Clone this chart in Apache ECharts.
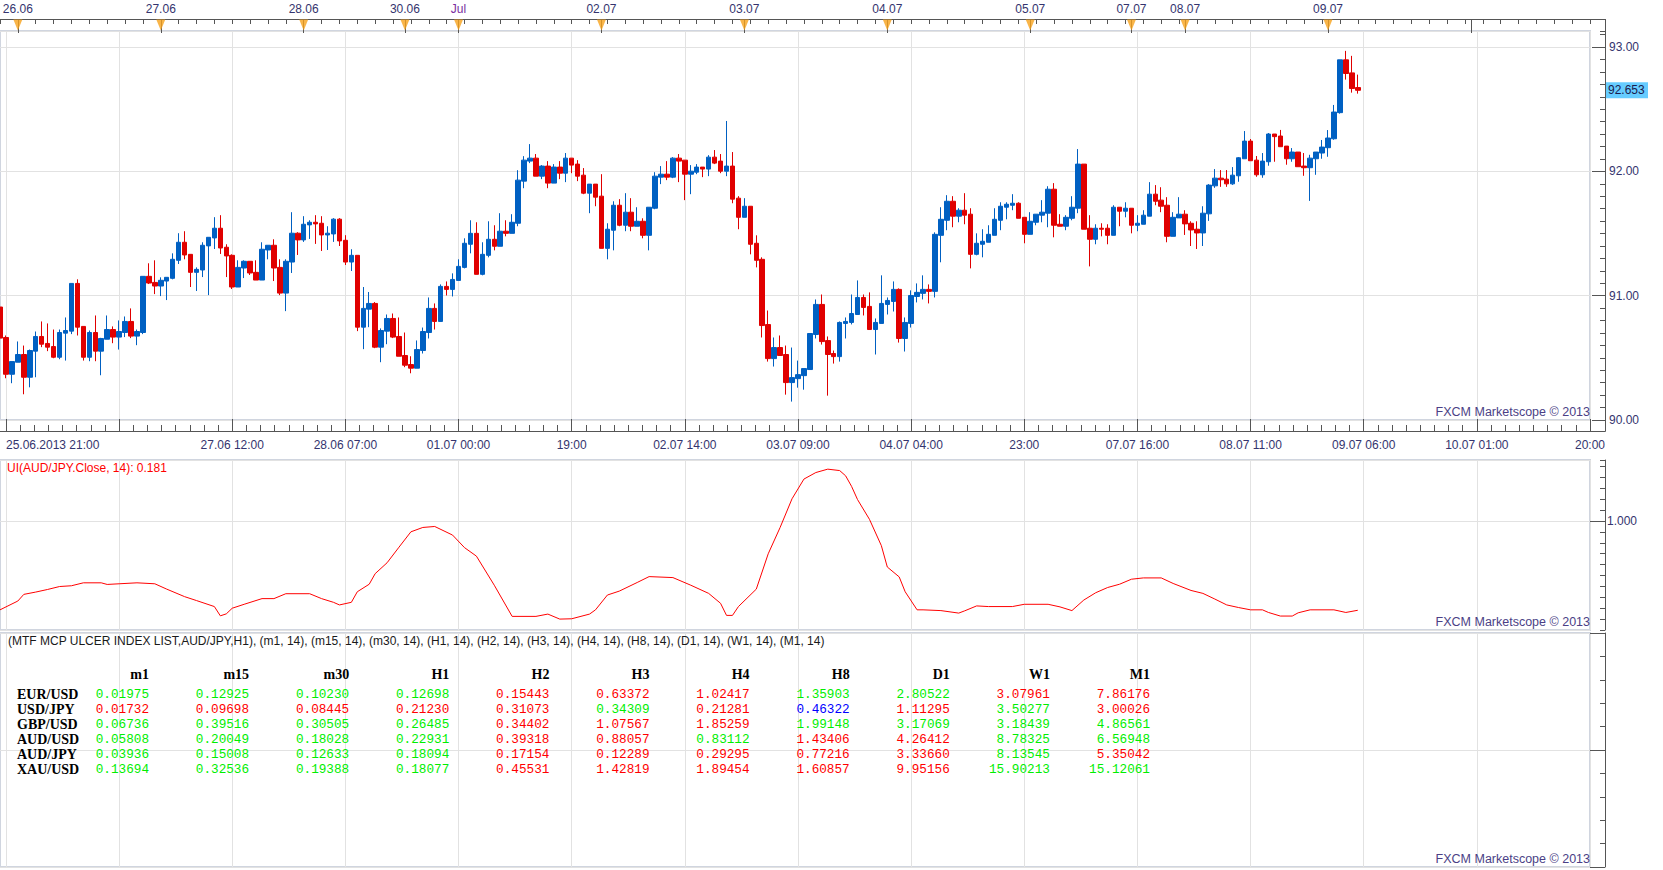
<!DOCTYPE html>
<html>
<head>
<meta charset="UTF-8">
<title>AUD/JPY H1 - MTF MCP Ulcer Index</title>
<script src="https://cdn.jsdelivr.net/npm/echarts@6/dist/echarts.min.js"></script>
<style>
  html, body { margin: 0; padding: 0; background: #fff; }
  #main { width: 1663px; height: 870px; }
</style>
</head>
<body>
<div id="main"></div>
<script>
// hourly bars, slot 0 = 25.06 20:00 ; [open, high, low, close]
var candles = [
  [90.909, 90.997, 90.532, 90.659], [90.664, 90.680, 90.336, 90.368], [90.368, 90.470, 90.296, 90.470],
  [90.465, 90.632, 90.465, 90.527], [90.527, 90.599, 90.207, 90.344], [90.344, 90.567, 90.263, 90.559],
  [90.554, 90.712, 90.344, 90.672], [90.672, 90.793, 90.586, 90.610], [90.616, 90.777, 90.554, 90.586],
  [90.591, 90.728, 90.497, 90.505], [90.505, 90.728, 90.489, 90.704], [90.699, 90.825, 90.478, 90.720],
  [90.715, 91.099, 90.691, 91.099], [91.099, 91.132, 90.680, 90.747], [90.753, 90.753, 90.478, 90.505],
  [90.505, 90.720, 90.473, 90.704], [90.704, 90.841, 90.473, 90.554], [90.554, 90.661, 90.360, 90.656],
  [90.650, 90.841, 90.650, 90.728], [90.728, 90.753, 90.618, 90.667], [90.667, 90.801, 90.567, 90.712],
  [90.704, 90.833, 90.667, 90.793], [90.793, 90.898, 90.659, 90.675], [90.675, 90.728, 90.602, 90.712],
  [90.704, 91.156, 90.691, 91.156], [91.156, 91.261, 91.094, 91.102], [91.107, 91.285, 91.013, 91.078],
  [91.078, 91.148, 90.997, 91.124], [91.118, 91.148, 90.965, 91.148], [91.140, 91.341, 91.132, 91.293],
  [91.285, 91.503, 91.255, 91.430], [91.430, 91.519, 91.293, 91.328], [91.333, 91.333, 91.070, 91.188],
  [91.188, 91.228, 91.038, 91.212], [91.207, 91.430, 91.150, 91.406], [91.401, 91.470, 91.005, 91.470],
  [91.465, 91.632, 91.376, 91.543], [91.543, 91.648, 91.336, 91.384], [91.390, 91.414, 91.150, 91.320],
  [91.325, 91.333, 91.054, 91.070], [91.070, 91.285, 91.070, 91.228], [91.223, 91.285, 91.142, 91.277],
  [91.277, 91.277, 91.167, 91.183], [91.188, 91.285, 91.126, 91.126], [91.126, 91.430, 91.126, 91.374],
  [91.368, 91.406, 91.293, 91.406], [91.406, 91.454, 91.118, 91.223], [91.228, 91.293, 91.005, 91.021],
  [91.021, 91.293, 90.876, 91.277], [91.271, 91.672, 91.183, 91.503], [91.503, 91.511, 91.328, 91.449],
  [91.449, 91.640, 91.433, 91.575], [91.570, 91.607, 91.457, 91.591], [91.591, 91.648, 91.417, 91.578],
  [91.583, 91.640, 91.360, 91.489], [91.489, 91.559, 91.368, 91.503], [91.497, 91.624, 91.433, 91.616],
  [91.616, 91.624, 91.400, 91.441], [91.446, 91.487, 91.247, 91.271], [91.271, 91.374, 91.199, 91.325],
  [91.325, 91.325, 90.715, 90.747], [90.747, 91.070, 90.570, 90.898], [90.892, 91.030, 90.747, 90.938],
  [90.938, 90.949, 90.578, 90.586], [90.586, 90.737, 90.465, 90.720], [90.715, 90.849, 90.610, 90.817],
  [90.817, 90.857, 90.659, 90.667], [90.672, 90.825, 90.513, 90.513], [90.519, 90.704, 90.425, 90.441],
  [90.446, 90.513, 90.376, 90.417], [90.417, 90.640, 90.417, 90.567], [90.559, 90.744, 90.535, 90.712],
  [90.704, 90.986, 90.656, 90.898], [90.898, 90.938, 90.728, 90.793], [90.793, 91.091, 90.793, 91.075],
  [91.075, 91.115, 91.002, 91.051], [91.051, 91.180, 90.994, 91.131], [91.123, 91.293, 91.123, 91.236],
  [91.228, 91.462, 91.220, 91.422], [91.414, 91.607, 91.341, 91.502], [91.502, 91.591, 91.172, 91.172],
  [91.172, 91.430, 91.164, 91.333], [91.325, 91.599, 91.309, 91.454], [91.454, 91.567, 91.365, 91.398],
  [91.398, 91.664, 91.398, 91.519], [91.519, 91.607, 91.478, 91.502], [91.502, 91.656, 91.502, 91.591],
  [91.583, 92.010, 91.559, 91.930], [91.922, 92.123, 91.865, 92.091], [92.083, 92.220, 92.067, 92.107],
  [92.107, 92.140, 91.962, 91.962], [91.962, 92.051, 91.938, 92.043], [92.043, 92.083, 91.865, 91.906],
  [91.906, 92.059, 91.906, 92.035], [92.035, 92.083, 91.938, 91.986], [91.986, 92.148, 91.914, 92.107],
  [92.107, 92.107, 91.986, 92.051], [92.059, 92.091, 91.922, 91.962], [91.970, 92.027, 91.817, 91.825],
  [91.825, 91.898, 91.664, 91.898], [91.898, 91.898, 91.720, 91.793], [91.801, 91.978, 91.381, 91.381],
  [91.381, 91.583, 91.293, 91.535], [91.527, 91.760, 91.365, 91.728], [91.728, 91.777, 91.559, 91.567],
  [91.567, 91.825, 91.519, 91.672], [91.672, 91.785, 91.519, 91.559], [91.559, 91.712, 91.559, 91.599],
  [91.599, 91.623, 91.462, 91.486], [91.486, 91.712, 91.365, 91.712], [91.704, 91.994, 91.696, 91.962],
  [91.954, 92.043, 91.898, 91.978], [91.978, 92.083, 91.930, 91.954], [91.954, 92.115, 91.946, 92.107],
  [92.107, 92.140, 91.914, 92.083], [92.091, 92.091, 91.769, 91.978], [91.978, 92.051, 91.817, 92.002],
  [91.994, 92.059, 91.978, 92.035], [92.035, 92.035, 91.954, 92.019], [92.019, 92.131, 91.962, 92.115],
  [92.115, 92.172, 92.059, 92.067], [92.083, 92.140, 91.986, 92.002], [92.002, 92.406, 91.962, 92.043],
  [92.043, 92.156, 91.744, 91.777], [91.785, 91.801, 91.535, 91.631], [91.631, 91.785, 91.631, 91.720],
  [91.720, 91.720, 91.333, 91.414], [91.422, 91.486, 91.228, 91.285], [91.293, 91.309, 90.664, 90.760],
  [90.768, 90.881, 90.470, 90.494], [90.494, 90.664, 90.430, 90.583], [90.583, 90.680, 90.519, 90.519],
  [90.527, 90.599, 90.204, 90.301], [90.301, 90.583, 90.148, 90.341], [90.333, 90.478, 90.260, 90.365],
  [90.357, 90.414, 90.244, 90.414], [90.406, 90.696, 90.406, 90.696], [90.688, 90.970, 90.656, 90.930],
  [90.930, 91.010, 90.607, 90.631], [90.639, 90.672, 90.196, 90.527], [90.535, 90.559, 90.454, 90.510],
  [90.510, 90.793, 90.470, 90.785], [90.777, 90.825, 90.656, 90.793], [90.785, 91.010, 90.769, 90.857],
  [90.849, 91.123, 90.849, 90.986], [90.986, 91.010, 90.841, 90.906], [90.914, 91.027, 90.728, 90.728],
  [90.728, 90.817, 90.527, 90.785], [90.777, 91.164, 90.777, 90.938], [90.930, 90.986, 90.849, 90.962],
  [90.954, 91.115, 90.873, 91.051], [91.051, 91.059, 90.623, 90.656], [90.656, 90.825, 90.551, 90.785],
  [90.777, 91.043, 90.744, 91.002], [90.994, 91.099, 90.946, 91.027], [91.019, 91.164, 90.970, 91.051],
  [91.051, 91.091, 90.938, 91.035], [91.035, 91.510, 90.986, 91.494], [91.486, 91.712, 91.269, 91.615],
  [91.607, 91.809, 91.527, 91.760], [91.760, 91.801, 91.551, 91.640], [91.640, 91.704, 91.591, 91.688],
  [91.688, 91.825, 91.575, 91.648], [91.656, 91.704, 91.220, 91.333], [91.333, 91.502, 91.325, 91.422],
  [91.414, 91.535, 91.309, 91.438], [91.430, 91.567, 91.430, 91.494], [91.486, 91.704, 91.486, 91.615],
  [91.607, 91.752, 91.527, 91.720], [91.712, 91.752, 91.615, 91.736], [91.728, 91.817, 91.688, 91.744],
  [91.744, 91.752, 91.623, 91.623], [91.631, 91.631, 91.422, 91.494], [91.494, 91.672, 91.494, 91.599],
  [91.591, 91.656, 91.567, 91.656], [91.648, 91.769, 91.591, 91.672], [91.664, 91.881, 91.551, 91.857],
  [91.857, 91.906, 91.470, 91.567], [91.575, 91.656, 91.559, 91.559], [91.559, 91.648, 91.527, 91.631],
  [91.623, 91.801, 91.607, 91.712], [91.704, 92.180, 91.664, 92.059], [92.059, 92.059, 91.535, 91.535],
  [91.543, 91.648, 91.236, 91.454], [91.454, 91.575, 91.414, 91.543], [91.543, 91.583, 91.478, 91.535],
  [91.543, 91.575, 91.414, 91.486], [91.486, 91.728, 91.486, 91.712], [91.712, 91.712, 91.559, 91.680],
  [91.680, 91.752, 91.631, 91.704], [91.704, 91.704, 91.502, 91.567], [91.567, 91.648, 91.519, 91.583],
  [91.575, 91.688, 91.575, 91.648], [91.640, 91.914, 91.640, 91.817], [91.817, 91.890, 91.728, 91.760],
  [91.769, 91.873, 91.672, 91.720], [91.728, 91.793, 91.430, 91.478], [91.478, 91.672, 91.478, 91.631],
  [91.626, 91.793, 91.626, 91.656], [91.656, 91.688, 91.489, 91.578], [91.583, 91.599, 91.400, 91.529],
  [91.535, 91.599, 91.376, 91.505], [91.505, 91.720, 91.400, 91.664], [91.659, 91.898, 91.602, 91.890],
  [91.884, 92.019, 91.868, 91.946], [91.946, 92.011, 91.876, 91.933], [91.938, 92.011, 91.876, 91.900],
  [91.900, 92.035, 91.892, 91.970], [91.965, 92.116, 91.917, 92.110], [92.102, 92.325, 92.102, 92.244],
  [92.244, 92.261, 92.086, 92.086], [92.091, 92.124, 91.957, 91.973], [91.973, 92.148, 91.949, 92.083],
  [92.078, 92.309, 92.046, 92.301], [92.301, 92.301, 92.078, 92.280], [92.285, 92.334, 92.199, 92.199],
  [92.204, 92.204, 92.054, 92.102], [92.102, 92.188, 92.078, 92.156], [92.156, 92.156, 92.038, 92.038],
  [92.043, 92.148, 91.965, 92.030], [92.030, 92.134, 91.763, 92.107], [92.102, 92.156, 91.973, 92.156],
  [92.148, 92.253, 92.102, 92.196], [92.191, 92.333, 92.118, 92.269], [92.263, 92.535, 92.255, 92.478],
  [92.473, 92.898, 92.465, 92.898], [92.898, 92.970, 92.739, 92.788], [92.793, 92.930, 92.634, 92.667],
  [92.675, 92.779, 92.626, 92.653]
];

// UI(AUD/JPY.Close, 14): [slot, value]
var uiPoints = [
  [0, 0.185], [3, 0.266], [4, 0.327], [6, 0.348], [8, 0.372], [10, 0.399], [12, 0.406], [14, 0.433],
  [17, 0.433], [18, 0.418], [20, 0.424], [23, 0.433], [26, 0.424], [28, 0.375], [31, 0.306], [33, 0.270],
  [36, 0.215], [37, 0.130], [38, 0.148], [39, 0.200], [41, 0.236], [44, 0.288], [46, 0.288], [48, 0.333],
  [52, 0.333], [54, 0.288], [56, 0.254], [57, 0.230], [59, 0.254], [60, 0.351], [62, 0.420], [63, 0.517],
  [65, 0.617], [67, 0.760], [69, 0.901], [71, 0.941], [73, 0.950], [76, 0.871], [78, 0.756], [80, 0.678],
  [83, 0.411], [86, 0.125], [90, 0.125], [92, 0.146], [94, 0.100], [96, 0.103], [99, 0.146], [100, 0.185],
  [102, 0.321], [104, 0.357], [107, 0.436], [109, 0.490], [113, 0.481], [116, 0.411], [119, 0.336],
  [121, 0.245], [122, 0.134], [123, 0.134], [124, 0.215], [127, 0.375], [129, 0.699], [131, 0.941],
  [133, 1.204], [135, 1.385], [137, 1.445], [139, 1.476], [141, 1.463], [142, 1.415], [143, 1.318],
  [144, 1.197], [146, 1.016], [148, 0.774], [149, 0.578], [151, 0.487], [152, 0.351], [154, 0.185],
  [155, 0.185], [158, 0.178], [161, 0.155], [162, 0.176], [164, 0.221], [166, 0.215], [170, 0.215],
  [172, 0.236], [176, 0.236], [178, 0.212], [180, 0.178], [182, 0.275], [184, 0.342], [186, 0.390],
  [188, 0.420], [190, 0.466], [192, 0.478], [195, 0.478], [197, 0.427], [200, 0.363], [202, 0.336],
  [204, 0.284], [206, 0.230], [208, 0.206], [210, 0.185], [212, 0.185], [213, 0.161], [215, 0.128],
  [217, 0.128], [218, 0.158], [220, 0.185], [224, 0.185], [226, 0.161], [228, 0.181]
];
var uiLast = 0.181;
var lastClose = 92.653;

// bottom time labels, one every 19 bars starting at slot 1
var timeLabels = ['25.06.2013 21:00', '', '27.06 12:00', '28.06 07:00', '01.07 00:00', '19:00', '02.07 14:00',
  '03.07 09:00', '04.07 04:00', '23:00', '07.07 16:00', '08.07 11:00', '09.07 06:00', '10.07 01:00', '20:00'];
// day separators on the top scale
var dayTickSlots = [3, 27, 51, 68, 77, 101, 125, 149, 173, 190, 199, 223, 247];
var dayTickLabels = ['26.06', '27.06', '28.06', '30.06', 'Jul', '02.07', '03.07', '04.07', '05.07', '07.07', '08.07', '09.07', ''];

// ulcer index list
var pairs = ['EUR/USD', 'USD/JPY', 'GBP/USD', 'AUD/USD', 'AUD/JPY', 'XAU/USD'];
var periods = ['m1', 'm15', 'm30', 'H1', 'H2', 'H3', 'H4', 'H8', 'D1', 'W1', 'M1'];
var ulcerEURUSD = [0.01975, 0.12925, 0.10230, 0.12698, 0.15443, 0.63372, 1.02417, 1.35903, 2.80522, 3.07961, 7.86176];
var ulcerUSDJPY = [0.01732, 0.09698, 0.08445, 0.21230, 0.31073, 0.34309, 0.21281, 0.46322, 1.11295, 3.50277, 3.00026];
var ulcerGBPUSD = [0.06736, 0.39516, 0.30505, 0.26485, 0.34402, 1.07567, 1.85259, 1.99148, 3.17069, 3.18439, 4.86561];
var ulcerAUDUSD = [0.05808, 0.20049, 0.18028, 0.22931, 0.39318, 0.88057, 0.83112, 1.43406, 4.26412, 8.78325, 6.56948];
var ulcerAUDJPY = [0.03936, 0.15008, 0.12633, 0.18094, 0.17154, 0.12289, 0.29295, 0.77216, 3.33660, 8.13545, 5.35042];
var ulcerXAUUSD = [0.13694, 0.32536, 0.19388, 0.18077, 0.45531, 1.42819, 1.89454, 1.60857, 9.95156, 15.90213, 15.12061];
var ulcerRows = [ulcerEURUSD, ulcerUSDJPY, ulcerGBPUSD, ulcerAUDUSD, ulcerAUDJPY, ulcerXAUUSD];
// g = green, r = red, b = blue
var ulcerColors = ['ggggrrrggrr', 'rrrrrgrbrgr', 'ggggrrrgggg', 'ggggrrgrrgg', 'ggggrrrrrgr', 'ggggrrrrrgg'];

var W = 1590;            // plot width
var S = W / 267;         // one bar
var AX = 15;             // gap between plot and right scale
var slots = [];
for (var i = 0; i < 268; i++) slots.push(i);

var navy = '#34346e', gridC = '#e2e2e2', frame = '#d0d5df', axisC = '#555';
var sans = 'Liberation Sans, Arial, sans-serif';
var upC = '#0060c2', downC = '#e00000';

var chart = echarts.init(document.getElementById('main'), null, { renderer: 'svg' });

function vLines(grid) {
  return {
    type: 'value', gridIndex: grid, min: 0, max: 266, interval: 19, position: 'bottom',
    axisLine: { show: false, onZero: false }, axisTick: { show: false }, axisLabel: { show: false },
    splitLine: { show: true, lineStyle: { color: gridC } }
  };
}
function hiddenY(grid) {
  return { type: 'value', gridIndex: grid, min: 0, max: 1, show: false };
}
function isDay(i) { return dayTickSlots.indexOf(i) >= 0; }

var option = {
  animation: false,
  backgroundColor: '#fff',
  textStyle: { fontFamily: sans },
  grid: [
    { left: 0, top: 31, width: W, height: 389, show: true, borderColor: frame, borderWidth: 2, outerBoundsMode: 'none' },
    { left: S, top: 31, width: W - S, height: 389, outerBoundsMode: 'none' },
    { left: 0, top: 19, width: W, height: 12, outerBoundsMode: 'none' },
    { left: 0, top: 460, width: W, height: 170, show: true, borderColor: frame, borderWidth: 2, outerBoundsMode: 'none' },
    { left: S, top: 460, width: W - S, height: 170, outerBoundsMode: 'none' },
    { left: 0, top: 633, width: W, height: 234, show: true, borderColor: frame, borderWidth: 2, outerBoundsMode: 'none' },
    { left: S, top: 633, width: W - S, height: 234, outerBoundsMode: 'none' }
  ],
  xAxis: [
    { type: 'category', gridIndex: 0, data: slots, boundaryGap: false, position: 'bottom', offset: 11,
      axisLine: { onZero: false, lineStyle: { color: axisC } }, axisTick: { show: false },
      axisLabel: { show: false }, splitLine: { show: false } },
    { type: 'value', gridIndex: 1, min: 0, max: 266, interval: 19, position: 'bottom', offset: 11,
      axisLine: { show: false, onZero: false },
      axisTick: { show: true, inside: true, length: 12, lineStyle: { color: axisC } },
      minorTick: { show: true, splitNumber: 8, length: 6, lineStyle: { color: axisC } },
      splitLine: { show: true, lineStyle: { color: gridC } },
      axisLabel: { show: true, margin: 8, color: navy, fontSize: 12, fontFamily: sans,
        alignMinLabel: 'left', showMinLabel: true, showMaxLabel: true,
        formatter: function (v) { return timeLabels[Math.round(v / 19)] || ''; } } },
    { type: 'category', gridIndex: 2, data: slots, boundaryGap: false, position: 'top',
      axisLine: { onZero: false, lineStyle: { color: axisC } },
      axisTick: { show: true, inside: true, length: 5, interval: function (i) { return i % 3 === 0; }, lineStyle: { color: axisC } },
      axisLabel: { show: false }, splitLine: { show: false } },
    { type: 'category', gridIndex: 2, data: slots, boundaryGap: false, position: 'top',
      axisLine: { show: false, onZero: false },
      axisTick: { show: true, inside: true, length: 14, interval: function (i) { return isDay(i); }, lineStyle: { color: axisC } },
      axisLabel: { show: true, margin: 4, fontSize: 12, fontFamily: sans,
        interval: function (i) { return isDay(i); },
        formatter: function (v, i) { return dayTickLabels[dayTickSlots.indexOf(i)] || ''; },
        color: function (v) { return +v === dayTickSlots[dayTickLabels.indexOf('Jul')] ? '#7a2c9e' : navy; } },
      splitLine: { show: false } },
    { type: 'category', gridIndex: 3, data: slots, boundaryGap: false, show: false },
    vLines(4),
    { type: 'value', gridIndex: 5, min: 0, max: 266, show: false },
    vLines(6)
  ],
  yAxis: [
    { type: 'value', gridIndex: 0, min: 90, max: 93.13, interval: 1, position: 'right', offset: AX,
      axisLine: { show: true, onZero: false, lineStyle: { color: axisC } },
      axisTick: { show: true, inside: true, length: 13, lineStyle: { color: axisC } },
      splitLine: { show: true, lineStyle: { color: gridC } },
      axisLabel: { show: true, margin: 4, color: navy, fontSize: 12, fontFamily: sans, showMaxLabel: false,
        formatter: function (v) { return v.toFixed(2); } } },
    { type: 'value', gridIndex: 0, min: 90, max: 93.13, interval: 0.1, position: 'right', offset: AX,
      axisLine: { show: false, onZero: false },
      axisTick: { show: true, inside: true, length: 5, lineStyle: { color: axisC } },
      axisLabel: { show: false }, splitLine: { show: false } },
    hiddenY(1),
    hiddenY(2),
    { type: 'value', gridIndex: 3, min: 0, max: 1.56, interval: 0.1, position: 'right', offset: AX,
      axisLine: { show: true, onZero: false, lineStyle: { color: axisC } },
      axisTick: { show: true, inside: true, length: 5, lineStyle: { color: axisC } },
      axisLabel: { show: false }, splitLine: { show: false } },
    { type: 'value', gridIndex: 3, min: 0, max: 1.56, interval: 1, position: 'right', offset: AX,
      axisLine: { show: false, onZero: false },
      axisTick: { show: true, inside: true, length: 15, lineStyle: { color: axisC } },
      splitLine: { show: true, lineStyle: { color: gridC } },
      axisLabel: { show: true, margin: 2, color: navy, fontSize: 12, fontFamily: sans,
        showMinLabel: false, showMaxLabel: false,
        formatter: function (v) { return v.toFixed(3); } } },
    hiddenY(4),
    { type: 'value', gridIndex: 5, min: 0, max: 10, interval: 1, position: 'right', offset: AX,
      axisLine: { show: true, onZero: false, lineStyle: { color: axisC } },
      axisTick: { show: true, inside: true, length: 5, lineStyle: { color: axisC } },
      axisLabel: { show: false }, splitLine: { show: false } },
    { type: 'value', gridIndex: 5, min: 0, max: 10, interval: 5, position: 'right', offset: AX,
      axisLine: { show: false, onZero: false },
      axisTick: { show: true, inside: true, length: 15, lineStyle: { color: axisC } },
      axisLabel: { show: false }, splitLine: { show: true, lineStyle: { color: gridC } } },
    hiddenY(6)
  ],
  series: [
    { type: 'candlestick', xAxisIndex: 0, yAxisIndex: 0, barWidth: 5, clip: true,
      data: candles.map(function (c) { return [c[0], c[3], c[2], c[1]]; }),
      itemStyle: { color: upC, color0: downC, borderColor: upC, borderColor0: downC, borderWidth: 1 } },
    { type: 'line', xAxisIndex: 4, yAxisIndex: 4, data: uiPoints, symbol: 'none', silent: true,
      lineStyle: { color: '#ff0000', width: 1 } },
    { type: 'scatter', xAxisIndex: 3, yAxisIndex: 3, symbol: 'triangle', symbolRotate: 180,
      symbolSize: [9, 11], silent: true, itemStyle: { color: '#f7a21b' },
      data: dayTickSlots.filter(function (s, k) { return dayTickLabels[k]; }).map(function (s) { return [s, 0.5]; }) }
  ]
};
chart.setOption(option);

// texts: watermarks, pane caption, price tag and the ulcer table
function txt(x, y, s, align, font, fill) {
  return { type: 'text', x: x, y: y, silent: true,
    style: { text: s, textAlign: align, textVerticalAlign: 'middle', font: font, fill: fill } };
}
function seg(x1, y1, x2, y2) {
  return { type: 'line', silent: true, shape: { x1: x1, y1: y1, x2: x2, y2: y2 },
    style: { stroke: axisC, lineWidth: 1 } };
}
var g = [];
// join the time scales to the price scale at the corners
g.push(seg(W, 19.5, W + AX + 0.5, 19.5), seg(W + AX + 0.5, 19, W + AX + 0.5, 31),
       seg(W + AX + 0.5, 420, W + AX + 0.5, 431.5), seg(W, 431.5, W + AX + 0.5, 431.5));

var sansFont = '12px "Liberation Sans", Arial, sans-serif';
[412, 622, 859].forEach(function (y) {
  g.push(txt(W, y, 'FXCM Marketscope \u00a9 2013', 'right', '12.5px "Liberation Sans", Arial, sans-serif', '#4b3f86'));
});
g.push(txt(7, 468, 'UI(AUD/JPY.Close, 14): ' + uiLast.toFixed(3), 'left', sansFont, '#ff0000'));

var py = chart.convertToPixel({ yAxisIndex: 0 }, lastClose);
g.push({ type: 'rect', silent: true, shape: { x: W + AX + 1, y: py - 8, width: 42, height: 16 }, style: { fill: '#66ccff' } });
g.push(txt(W + AX + 3, py, lastClose.toFixed(3), 'left', sansFont, '#1b1b4d'));

g.push(txt(8, 641, '(MTF MCP ULCER INDEX LIST,AUD/JPY,H1), ' +
  periods.map(function (p) { return '(' + p + ', 14)'; }).join(', '), 'left', sansFont, '#1a1a1a'));

var cellColor = { g: '#00ee00', r: '#ff0000', b: '#0000ff' };
function colRight(k) { return 149 + 100.1 * k; }
function rowY(r) { return 694.5 + 14.95 * r; }
var headFont = 'bold 14px "Liberation Serif", serif';
var cellFont = '12.7px "Liberation Mono", monospace';
periods.forEach(function (p, k) { g.push(txt(colRight(k), 674, p, 'right', headFont, '#000')); });
pairs.forEach(function (p, r) {
  var y = rowY(r);
  g.push(txt(17, y, p, 'left', headFont, '#000'));
  ulcerRows[r].forEach(function (v, k) {
    g.push(txt(colRight(k), y, v.toFixed(5), 'right', cellFont, cellColor[ulcerColors[r][k]]));
  });
});
chart.setOption({ graphic: g });
</script>
</body>
</html>
